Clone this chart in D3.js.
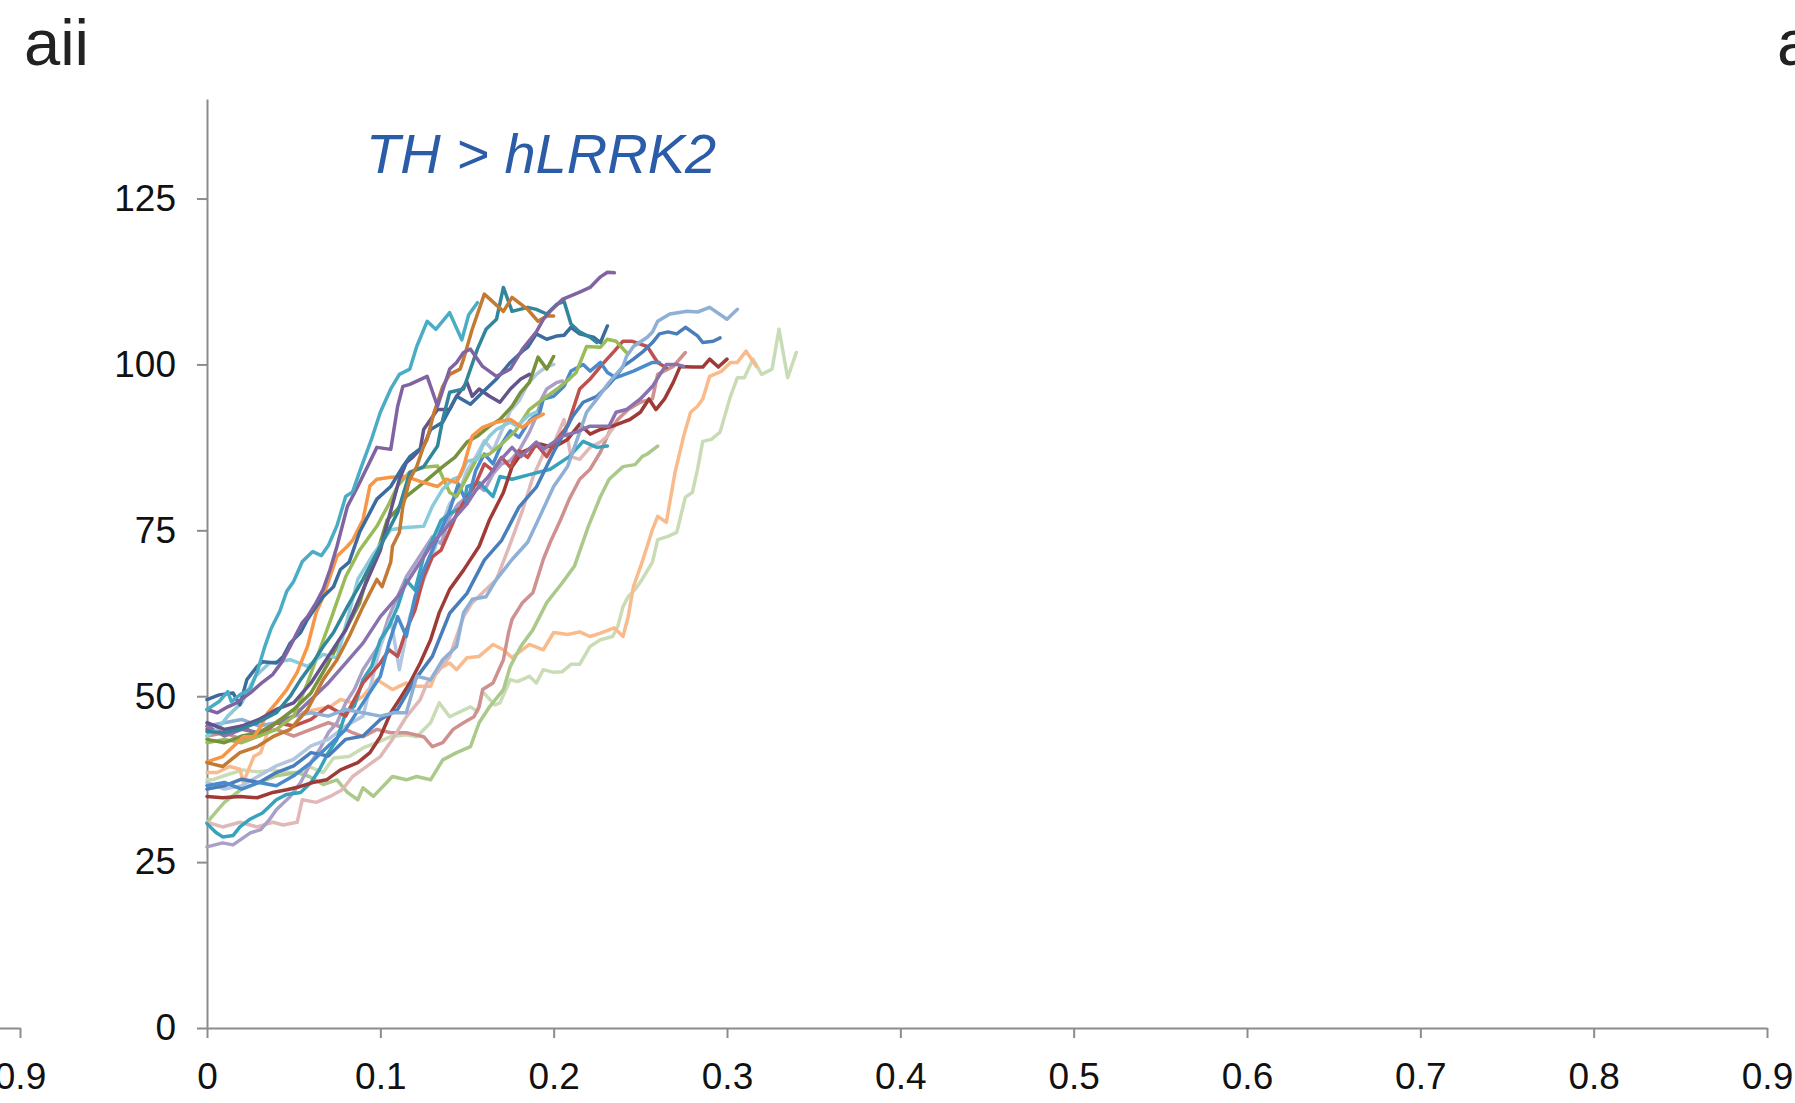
<!DOCTYPE html>
<html>
<head>
<meta charset="utf-8">
<script src="https://cdn.jsdelivr.net/npm/d3@7"></script>
<style>
  html, body { margin: 0; padding: 0; background: #ffffff; }
  svg { display: block; }
  text { font-family: "Liberation Sans", Arial, Helvetica, sans-serif; }
</style>
</head>
<body>
<svg id="chart" width="1795" height="1103"></svg>
<script>
// ---------------- DATA ----------------
const panelLabel = "aii";
const nextPanelLabel = "a";
const chartTitle = "TH > hLRRK2";
const xTicks = [0, 0.1, 0.2, 0.3, 0.4, 0.5, 0.6, 0.7, 0.8, 0.9];
const yTicks = [0, 25, 50, 75, 100, 125];
const prevPanelTicks = [0.9];

// each trace: [x, y] pairs
const sCyan = [[0,48],[0.007,49.2],[0.012,50.7],[0.014,49.2],[0.019,50.2],[0.025,51.1],[0.029,53.7],[0.033,57.2],[0.037,60.2],[0.042,62.8],[0.046,65.8],[0.05,67.3],[0.055,70.3],[0.061,71.8],[0.066,71.2],[0.07,72.7],[0.075,75.7],[0.08,80.1],[0.084,80.8],[0.088,83.8],[0.095,88.8],[0.1,92.8],[0.106,96.3],[0.111,98.5],[0.117,99.3],[0.121,102.7],[0.127,106.5],[0.132,105.3],[0.14,107.8],[0.147,103.7],[0.151,107.5],[0.156,109.3]];
const sPurple = [[0,48],[0.006,47.5],[0.012,48.4],[0.017,49],[0.025,50.5],[0.032,52.1],[0.038,53.3],[0.043,55.1],[0.048,57.5],[0.052,59.6],[0.055,61.1],[0.058,62],[0.063,64.1],[0.067,66.1],[0.071,69.1],[0.075,72.6],[0.081,78.6],[0.087,81.6],[0.098,87.5],[0.106,87.2],[0.11,93.7],[0.113,96.7],[0.117,97],[0.127,98.2],[0.133,93.7],[0.14,99.3],[0.144,100.3],[0.148,101.8],[0.152,102.3],[0.159,99.7],[0.167,98.2],[0.175,99.3],[0.182,102.3],[0.19,104.9],[0.194,106.8],[0.198,108],[0.205,109.8],[0.215,110.9],[0.221,111.6],[0.227,113.2],[0.231,113.9],[0.235,113.8]];
const sBrown = [[0,40],[0.009,39.4],[0.019,41.5],[0.029,42.4],[0.038,43.9],[0.048,45],[0.058,48],[0.067,52.5],[0.075,55.5],[0.082,59],[0.09,63.5],[0.098,67.6],[0.101,66.5],[0.106,70.2],[0.107,72.6],[0.111,74.7],[0.113,78.6],[0.117,82.7],[0.121,84.6],[0.125,87.7],[0.127,88.7],[0.131,92.8],[0.133,94.3],[0.136,96.7],[0.14,98.5],[0.146,99.3],[0.148,100.8],[0.153,105.3],[0.16,110.6],[0.171,108],[0.176,110.1],[0.185,108.3],[0.191,106.5],[0.196,107.3],[0.2,107.3]];
const sDarkTeal = [[0,44.7],[0.009,44.5],[0.019,45],[0.029,46],[0.04,47.5],[0.048,50],[0.054,52.5],[0.061,55],[0.067,57.5],[0.073,59.6],[0.081,63.5],[0.09,67.6],[0.1,72.6],[0.11,77.7],[0.117,83.7],[0.125,84.6],[0.133,87.7],[0.136,91.7],[0.14,95.8],[0.148,96.3],[0.156,102.3],[0.161,105.3],[0.167,106.8],[0.171,111.6],[0.176,108],[0.185,108.6],[0.19,108.3],[0.196,107.6],[0.202,109.1],[0.206,109.5],[0.21,106.1],[0.215,104.9],[0.221,104.1],[0.225,103.3]];
const sDarkBlue = [[0,49.5],[0.007,50.2],[0.015,50.5],[0.019,48.7],[0.023,52.5],[0.029,54.5],[0.032,55.2],[0.04,55],[0.044,56],[0.048,58],[0.054,59.6],[0.058,61.6],[0.063,63.5],[0.067,65],[0.073,66.5],[0.077,69.1],[0.082,70.2],[0.088,74.7],[0.094,77.7],[0.098,79.7],[0.106,81.6],[0.113,84.6],[0.117,86.1],[0.125,87.7],[0.129,90.2],[0.136,91.3],[0.144,95.2],[0.152,94],[0.159,95.8],[0.167,97.8],[0.175,100.3],[0.182,102],[0.185,102.6],[0.19,104.6],[0.196,103.8],[0.202,104.3],[0.206,104.4],[0.21,105.6],[0.215,104.6],[0.223,104.1],[0.227,103.3],[0.231,105.8]];
const sDarkGreen = [[0,43.5],[0.01,43],[0.02,44],[0.03,44.5],[0.04,46],[0.05,48],[0.06,50.5],[0.07,55],[0.08,60],[0.088,64],[0.092,67.6],[0.096,70.2],[0.1,73.2],[0.104,76.6],[0.11,78.2],[0.115,80.1],[0.125,82.2],[0.136,84.6],[0.143,86],[0.15,88.3],[0.156,89.2],[0.163,90.7],[0.169,91.7],[0.176,93.7],[0.181,95.8],[0.186,97.3],[0.191,101.1],[0.196,99.3],[0.2,101.2]];
const sGreen = [[0,43],[0.01,43.5],[0.02,43],[0.03,44],[0.04,45],[0.05,47],[0.058,52],[0.065,57],[0.072,62],[0.08,68],[0.088,72],[0.098,75.6],[0.105,79],[0.11,81.7],[0.117,83.8],[0.125,84.5],[0.133,84.7],[0.14,80.7],[0.144,80.1],[0.15,83],[0.156,86],[0.163,86.5],[0.17,88],[0.178,90],[0.186,93.2],[0.194,94.8],[0.202,96.3],[0.209,97.8],[0.213,98.8],[0.219,102.7],[0.227,102.6],[0.231,103.8],[0.236,103.5],[0.242,101.8]];
const sRed = [[0,45],[0.01,44.5],[0.02,45.5],[0.03,44],[0.04,46],[0.05,45.5],[0.06,46.5],[0.07,48.5],[0.08,47],[0.09,52],[0.1,55],[0.105,57],[0.11,56],[0.115,60],[0.12,63],[0.125,68],[0.13,71],[0.135,72],[0.14,75],[0.145,78],[0.15,80],[0.155,82],[0.16,85],[0.165,84],[0.17,86],[0.175,84.5],[0.18,87],[0.185,86],[0.19,88],[0.196,86.1],[0.202,88.7],[0.208,90.7],[0.215,96.3],[0.221,97.8],[0.228,100],[0.235,102],[0.24,103.5],[0.245,103.5],[0.254,102.7],[0.26,100.3],[0.265,99.5]];
const sDarkRed = [[0,34.9],[0.009,34.7],[0.019,34.9],[0.029,34.7],[0.038,35.5],[0.046,35.9],[0.054,36.4],[0.061,37],[0.069,37.4],[0.077,38.9],[0.087,40],[0.094,41.5],[0.1,43.9],[0.106,47.5],[0.111,49.5],[0.117,52],[0.123,55],[0.129,58.5],[0.134,62.6],[0.14,66.1],[0.148,69],[0.157,72.6],[0.163,76.6],[0.171,80.7],[0.176,84.6],[0.182,86.8],[0.192,88],[0.2,87.5],[0.208,88.7],[0.215,91],[0.221,89.5],[0.227,90.2],[0.234,90.7],[0.24,91.3],[0.244,91.7],[0.25,92.8],[0.255,94.8],[0.259,93.2],[0.264,94.8],[0.269,97.3],[0.273,99.7],[0.28,99.6],[0.286,99.6],[0.29,100.8],[0.295,99.6],[0.3,100.8]];
const sLightBlue = [[0,45.5],[0.01,46],[0.02,46.5],[0.03,45.5],[0.04,46],[0.05,47],[0.06,47.5],[0.07,47],[0.08,48],[0.09,47.5],[0.1,47],[0.108,47.5],[0.115,47.5],[0.121,53],[0.129,52.5],[0.136,55.5],[0.144,57.5],[0.148,62.6],[0.153,64.6],[0.161,65],[0.167,67.6],[0.176,70.6],[0.185,73.2],[0.192,77.1],[0.2,81.6],[0.208,84.6],[0.215,89.8],[0.219,92.8],[0.225,94.8],[0.232,97.3],[0.24,99.7],[0.242,101.2],[0.246,102.7],[0.254,104.1],[0.257,104.9],[0.26,106.5],[0.267,107.6],[0.277,108],[0.283,107.9],[0.29,108.6],[0.3,106.8],[0.306,108.3]];
const sLightOrange = [[0,38.5],[0.006,38.5],[0.013,39.4],[0.019,39],[0.021,37],[0.027,40.9],[0.031,41.5],[0.036,45.4],[0.042,46.5],[0.05,45.4],[0.055,47.5],[0.063,48],[0.071,48.4],[0.077,49.5],[0.084,49],[0.09,50],[0.098,52.5],[0.107,51],[0.115,52],[0.121,51.5],[0.129,51.5],[0.133,54],[0.14,55],[0.144,54],[0.15,55.8],[0.157,56],[0.165,57.8],[0.171,57],[0.176,55.8],[0.186,57.8],[0.194,57],[0.2,59.6],[0.208,59.3],[0.215,59.7],[0.221,59],[0.227,59.5],[0.235,60.3],[0.24,59],[0.243,62],[0.246,66.5],[0.251,70.2],[0.257,75.1],[0.26,77.1],[0.265,76.2],[0.27,83.7],[0.275,89.2],[0.279,92.8],[0.283,93.7],[0.286,94.8],[0.29,98.2],[0.297,99],[0.302,100.3],[0.306,100.3],[0.311,102],[0.317,99.7]];
const sPaleGreen = [[0,37.4],[0.003,37.4],[0.012,38.2],[0.021,38.9],[0.029,38.6],[0.038,38.9],[0.048,38.5],[0.054,38.5],[0.059,39.4],[0.067,38.5],[0.073,40.7],[0.082,40.9],[0.09,42.2],[0.098,43],[0.106,43.9],[0.115,44.2],[0.121,43.9],[0.129,46],[0.134,49],[0.14,46.9],[0.152,48.4],[0.156,47.7],[0.159,50.7],[0.166,48.7],[0.169,49],[0.175,52.5],[0.179,52.2],[0.186,53],[0.19,52],[0.194,54],[0.2,53.6],[0.205,53.7],[0.21,54.8],[0.215,54.8],[0.221,57.5],[0.227,58.5],[0.234,59],[0.237,60.5],[0.24,63.5],[0.243,65],[0.247,66.1],[0.251,67.6],[0.257,70.2],[0.26,73.6],[0.266,74.1],[0.271,74.7],[0.276,80],[0.28,80.7],[0.283,84.2],[0.286,88.4],[0.291,88.7],[0.296,89.8],[0.302,95.2],[0.306,98],[0.31,98],[0.315,100.8],[0.32,98.5],[0.326,99.3],[0.33,105.3],[0.335,98],[0.34,101.8]];
const sMidGreen = [[0,31],[0.005,32.5],[0.01,34],[0.015,35],[0.02,36],[0.03,37],[0.04,38],[0.052,38.5],[0.059,37.9],[0.067,36.7],[0.075,37.4],[0.081,35.5],[0.087,34.4],[0.09,36.2],[0.096,34.9],[0.107,37.9],[0.115,37.4],[0.121,37.9],[0.129,37.4],[0.136,40.4],[0.144,41.5],[0.152,42.4],[0.157,46],[0.163,48.4],[0.171,51],[0.175,54.5],[0.181,57.5],[0.188,60],[0.196,64.1],[0.205,67.1],[0.212,69.6],[0.22,75.6],[0.227,80.1],[0.232,82.7],[0.24,84.6],[0.247,84.9],[0.251,86.1],[0.254,86.5],[0.26,87.7]];
const sRose = [[0,44],[0.01,44.5],[0.02,43.5],[0.03,44.5],[0.04,45],[0.05,44],[0.06,45],[0.07,46],[0.077,45.4],[0.084,44.5],[0.09,43.9],[0.098,45],[0.106,44.5],[0.115,44.5],[0.125,43.9],[0.13,42.4],[0.136,43],[0.142,45],[0.148,46],[0.154,46.9],[0.157,48.4],[0.159,51],[0.165,52],[0.171,55.5],[0.174,59.6],[0.176,61.6],[0.182,64.1],[0.188,65.6],[0.194,70.6],[0.198,73.2],[0.204,76.6],[0.209,79.7],[0.215,82.7],[0.221,84.2],[0.227,86.8],[0.232,89.8],[0.237,91.7],[0.243,93.2],[0.25,94.3],[0.257,94.8],[0.26,98.5],[0.269,99.7],[0.276,101.8]];
const sLightPink = [[0,31],[0.009,30.3],[0.019,31],[0.029,30.3],[0.038,31],[0.044,30.6],[0.052,31],[0.055,34.4],[0.063,34],[0.071,34.9],[0.078,35.9],[0.084,37.9],[0.092,39.4],[0.1,40.9],[0.107,43.5],[0.115,46.9],[0.123,49.5],[0.127,52],[0.133,53.6],[0.14,56],[0.144,59],[0.148,62],[0.153,64.1],[0.159,65.6],[0.167,67.6],[0.175,73],[0.182,78],[0.188,83],[0.194,86.5],[0.2,88],[0.206,91.7],[0.21,86.1],[0.215,85.7],[0.221,87.5],[0.227,88.3],[0.231,89.2],[0.235,90.7]];
const sOrange = [[0,40.1],[0.009,40.9],[0.015,42.4],[0.021,43.9],[0.027,43.9],[0.031,45.4],[0.035,47.5],[0.04,49],[0.046,51],[0.052,53.6],[0.058,57.5],[0.063,62.6],[0.067,65],[0.071,68],[0.075,71.1],[0.081,72.6],[0.084,73.5],[0.09,76.6],[0.094,81.7],[0.098,82.7],[0.106,83],[0.115,83.1],[0.125,82.2],[0.133,81.6],[0.138,82.7],[0.144,82.2],[0.148,84.6],[0.153,89.2],[0.159,90.5],[0.167,91.3],[0.175,91.7],[0.182,90.5],[0.188,91.7],[0.194,92.5]];
const sLavender = [[0,27.3],[0.009,27.9],[0.015,27.6],[0.025,29.4],[0.031,29.9],[0.036,31.4],[0.04,32.9],[0.048,34.9],[0.054,37],[0.06,40],[0.065,42],[0.07,44.5],[0.075,46],[0.08,49],[0.085,51],[0.09,54],[0.095,56],[0.1,58],[0.105,62],[0.11,65],[0.115,68],[0.12,70],[0.125,72],[0.13,74],[0.135,73],[0.14,77],[0.145,79],[0.15,80],[0.155,82],[0.16,81],[0.165,83.5],[0.17,85],[0.175,85.5],[0.18,87],[0.186,89.8],[0.19,92.2],[0.193,94.8],[0.196,96.3],[0.202,97.3],[0.205,97.5]];
const sLightCyan = [[0,44],[0.006,45],[0.012,47],[0.02,49],[0.028,53],[0.036,55],[0.048,55.5],[0.058,54.5],[0.067,56.3],[0.075,55.8],[0.081,61.6],[0.087,67.6],[0.095,71],[0.106,75.1],[0.113,75.4],[0.125,75.6],[0.13,78.6],[0.136,81.2],[0.142,82.7],[0.146,83.1],[0.15,85.4],[0.156,85.7],[0.159,87.7],[0.163,89.2],[0.167,90.2],[0.175,91.3],[0.179,90.7],[0.185,92.2],[0.19,92.8]];
const sBlue = [[0,36],[0.01,36.5],[0.02,37.5],[0.03,37],[0.04,38.5],[0.05,39.5],[0.06,41.5],[0.07,41],[0.08,43.5],[0.09,44],[0.1,46.5],[0.11,48],[0.12,52.5],[0.13,56],[0.14,62.5],[0.15,65.5],[0.16,70.5],[0.17,73.5],[0.18,78.5],[0.19,81.5],[0.2,86.8],[0.204,88.7],[0.208,90.7],[0.211,92.2],[0.217,94.3],[0.225,95.2],[0.231,96.7],[0.236,98.2],[0.24,99.7],[0.246,100.8],[0.251,101.8],[0.257,103.3],[0.261,104.6],[0.266,104.9],[0.271,104.6],[0.276,105.6],[0.283,104.3],[0.286,103.3],[0.292,103.5],[0.296,104]];
const sMidBlue = [[0,36.5],[0.01,37],[0.02,36],[0.03,37],[0.04,36.5],[0.05,38],[0.06,40],[0.07,42.5],[0.08,45],[0.09,49],[0.1,53],[0.105,58],[0.11,62],[0.115,59],[0.12,65],[0.125,69],[0.13,72],[0.135,75],[0.14,78],[0.145,82],[0.15,79],[0.155,84],[0.16,86.5],[0.165,85],[0.17,88],[0.175,90],[0.18,89],[0.186,91.5],[0.192,92.8],[0.194,94.8],[0.2,95.2],[0.206,96.7],[0.21,99],[0.217,100],[0.221,99],[0.227,100.3],[0.231,98.8],[0.236,98],[0.246,99],[0.257,100.3],[0.261,100.3]];
const sDarkPurple = [[0,46],[0.01,45],[0.02,45.5],[0.03,46.5],[0.04,48],[0.05,49],[0.06,52],[0.07,56],[0.08,60],[0.09,66],[0.1,72],[0.105,77],[0.111,82.7],[0.115,85.2],[0.119,86.1],[0.123,87.2],[0.125,90.2],[0.133,93.2],[0.14,93.2],[0.144,95.2],[0.15,97.3],[0.153,95.2],[0.157,96.3],[0.163,95.2],[0.169,94.3],[0.175,96.3],[0.181,97.8],[0.186,98.5]];
const sPurple2 = [[0,45.5],[0.01,44],[0.02,45],[0.03,44.5],[0.04,46],[0.05,47],[0.06,49.5],[0.07,52],[0.08,55],[0.09,58],[0.1,62],[0.11,65],[0.12,69],[0.13,73],[0.14,76],[0.15,79],[0.155,81],[0.162,83],[0.169,85.5],[0.176,87.5],[0.181,86.1],[0.19,88.3],[0.194,87.2],[0.205,89.2],[0.213,89.8],[0.221,90.7],[0.227,90.7],[0.232,90.7],[0.236,92.8],[0.242,93.2],[0.25,94.8],[0.257,96.7],[0.265,100],[0.271,100],[0.275,99.7]];
const sTealCyan = [[0,30.8],[0.005,29.5],[0.009,28.8],[0.015,29],[0.019,30.3],[0.025,31.5],[0.032,32.4],[0.04,34.4],[0.046,35.2],[0.054,35.5],[0.06,37],[0.065,39],[0.07,41.5],[0.075,43.5],[0.08,47.5],[0.085,48.5],[0.09,52.5],[0.095,54.5],[0.1,58.5],[0.105,60.5],[0.11,63.5],[0.115,67.5],[0.12,66],[0.125,71],[0.13,73.5],[0.135,76.5],[0.14,77.5],[0.148,78.6],[0.15,81.6],[0.157,82.2],[0.165,80.1],[0.169,83.1],[0.176,82.7],[0.186,83.4],[0.198,84.2],[0.209,86.1],[0.217,88.4],[0.225,87.5],[0.231,87.7]];
const sSteel = [[0,37],[0.01,36],[0.02,36.5],[0.03,38],[0.04,39.5],[0.05,40.5],[0.06,42.5],[0.07,43.5],[0.08,45.5],[0.09,47],[0.1,57.5],[0.106,61.6],[0.111,54],[0.117,62],[0.125,67.5],[0.13,71],[0.135,75.5],[0.14,79],[0.145,80.5],[0.15,84],[0.155,86],[0.16,88.5],[0.165,87],[0.17,90],[0.175,93],[0.18,94.5],[0.185,97],[0.19,98.5],[0.195,99.5],[0.2,100]];

const traces = [sPaleGreen, sLightOrange, sMidGreen, sRose, sLightPink, sLavender, sSteel, sTealCyan,
  sDarkRed, sRed, sBlue, sMidBlue, sLightBlue, sPurple2, sGreen, sDarkGreen, sLightCyan,
  sOrange, sDarkPurple, sDarkBlue, sDarkTeal, sBrown, sPurple, sCyan];

// ---------------- STYLE ----------------
const traceColors = ["#c9dcb6", "#f9ba8c", "#abc98a", "#cf918f", "#dfb8b7", "#aa9fc9", "#b3c6df", "#36a2bc",
  "#9e3b37", "#c0504d", "#4a7ebb", "#4a8bcb", "#8eafd6", "#8a72ae", "#9bbb59", "#76923c", "#8acbdb",
  "#f79646", "#65538c", "#3c6b9e", "#31869b", "#c47a33", "#8064a2", "#4bacc6"];
const axisColor = "#8c8c8c";
const fontFamily = '"Liberation Sans", Arial, Helvetica, sans-serif';

// ---------------- DRAW ----------------
const svg = d3.select("#chart");
svg.append("rect").attr("width", 1795).attr("height", 1103).attr("fill", "#ffffff");

const x = d3.scaleLinear().domain([0, 0.9]).range([207, 1767]);
const y = d3.scaleLinear().domain([0, 140]).range([1028, 99]);

function styleAxis(g) {
  g.selectAll("path.domain").attr("stroke", axisColor).attr("stroke-width", 2);
  g.selectAll(".tick line").attr("stroke", axisColor).attr("stroke-width", 2);
  g.selectAll(".tick text").attr("fill", "#111").attr("font-size", 37).attr("font-family", fontFamily);
}

// y axis
const yAxisG = svg.append("g").attr("transform", `translate(${x(0)},0)`)
  .call(d3.axisLeft(y).tickValues(yTicks).tickSize(10).tickSizeOuter(0).tickPadding(21).tickFormat(d3.format("d")));
styleAxis(yAxisG);

// x axis
const xAxisG = svg.append("g").attr("transform", `translate(0,${y(0)})`)
  .call(d3.axisBottom(x).tickValues(xTicks).tickSize(10).tickSizeOuter(0).tickPadding(25)
    .tickFormat(d => d === 0 ? "0" : d3.format(".1f")(d)));
styleAxis(xAxisG);

// previous panel's x axis, cut by the left edge
const xPrev = d3.scaleLinear().domain([0.8, 0.9]).range([20 - (x(0.1) - x(0)), 20]);
const xPrevG = svg.append("g").attr("transform", `translate(0,${y(0)})`)
  .call(d3.axisBottom(xPrev).tickValues(prevPanelTicks).tickSize(10).tickSizeOuter(0).tickPadding(25)
    .tickFormat(d3.format(".1f")));
styleAxis(xPrevG);

// traces
const line = d3.line().x(d => x(d[0])).y(d => y(d[1]));
svg.append("g").selectAll("path").data(traces).join("path")
  .attr("d", line)
  .attr("fill", "none")
  .attr("stroke", (d, i) => traceColors[i])
  .attr("stroke-width", 3.5)
  .attr("stroke-linejoin", "round")
  .attr("stroke-linecap", "round");

// labels
svg.append("text").attr("x", 24).attr("y", 65).attr("font-size", 65).attr("fill", "#222")
  .attr("font-family", fontFamily).text(panelLabel);
svg.append("text").attr("x", 1777).attr("y", 65).attr("font-size", 65).attr("fill", "#222")
  .attr("font-family", fontFamily).text(nextPanelLabel);
svg.append("text").attr("x", 366).attr("y", 173).attr("font-size", 56).attr("font-style", "italic")
  .attr("fill", "#2b5ca8").attr("font-family", fontFamily).text(chartTitle);
</script>
</body>
</html>
